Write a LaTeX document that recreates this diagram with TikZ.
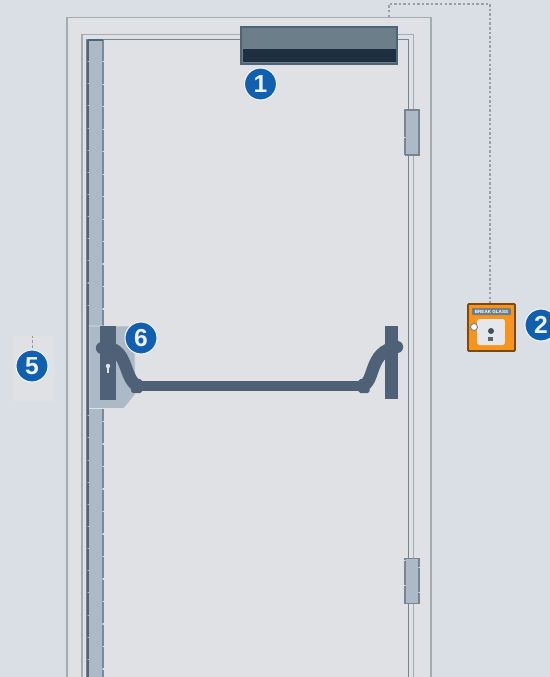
\documentclass[tikz,border=0pt]{standalone}
\usepackage{amsmath}
\usepackage{fontspec}
\setsansfont{Liberation Sans}
\usetikzlibrary{positioning,calc}
\definecolor{wallbg}{HTML}{DADEE5}
\definecolor{doorbg}{HTML}{E0E1E5}
\definecolor{frameline}{HTML}{A4ABB1}
\definecolor{doorline}{HTML}{76858F}
\definecolor{stripfill}{HTML}{ACB9C6}
\definecolor{stripline}{HTML}{4E6478}
\definecolor{barfill}{HTML}{4F6176}
\definecolor{closerfill}{HTML}{6D7E8B}
\definecolor{closerdark}{HTML}{1F2F42}
\definecolor{badgeblue}{HTML}{1160B0}
\definecolor{callorange}{HTML}{F7941D}
\definecolor{callline}{HTML}{7A4A14}

\begin{document}
\begin{tikzpicture}[
  x=0.02cm, y=-0.02cm,
  node distance=0.2cm and 0.2cm,
  badge/.style={circle, fill=badgeblue, draw=white!70!wallbg, line width=0.6pt, minimum size=0.64cm, inner sep=0pt, text=white!92!badgeblue, font=\sffamily\bfseries\fontsize{14}{14}\selectfont},
  hingebox/.style={draw=doorline, line width=0.7pt, dash pattern=on 14pt off 0.3pt, fill=stripfill, minimum width=0.28cm, minimum height=0.9cm, inner sep=0pt},
  frameedge/.style={draw=frameline, line width=1pt},
  wire/.style={draw=gray!75, line width=0.6pt, dash pattern=on 1.4pt off 1.2pt},
  barline/.style={draw=barfill, line width=6pt}
]
\useasboundingbox (0,0) rectangle (550,677);
\clip (0,0) rectangle (550,677);
\fill[wallbg] (0,0) rectangle (550,677);

% frame and door
\filldraw[frameedge, fill=doorbg] (67,690) -- (67,17.5) -- (431,17.5) -- (431,690);
\draw[frameedge] (82,690) -- (82,34.5) -- (413.5,34.5) -- (413.5,690);
\draw[doorline, line width=1pt] (87,690) -- (87,39.5) -- (408.5,39.5) -- (408.5,690);

% wire to the call point
\coordinate (wireA) at (389,17);
\coordinate (wireB) at (389,4);
\coordinate (wireC) at (490,4);

% strip on the door edge
\fill[stripfill] (88,40) rectangle (103,690);
\draw[stripline, line width=1.1pt, dash pattern=on 12pt off 0.6pt] (88,40) -- (88,690);
\draw[stripline!55!stripfill, line width=0.6pt, dash pattern=on 12pt off 0.8pt] (103,40) -- (103,690);
\draw[stripline, line width=1pt] (88,40) -- (103,40);

% closer
\node (closer) [minimum width=3.12cm, minimum height=0.74cm, inner sep=0pt, fill=closerfill, draw=stripline, line width=0.9pt] at (319,45.5) {};
\fill[closerdark] (243,48.5) rectangle (395.5,62);
\node (badgeA) [badge] at (260.5,84) {1};

% hinges
\node (hingeTop) [hingebox] at (412,132.5) {};
\node (hingeBot) [hingebox] at (412,581) {};

% lock plate
\filldraw[fill=stripfill, draw=doorbg, line width=0.5pt] (89,326) -- (135,326) -- (135,395) -- (124,408.5) -- (89,408.5) -- cycle;
\draw[stripline, line width=1.1pt] (88,326) -- (88,409);

% panic bar
\fill[barfill] (100,326) rectangle (116,399.5);
\fill[barfill] (384.5,326) rectangle (398,399);
\draw[barline] (140,386) -- (360,386);
\draw[barline, line width=7pt, line cap=round] (102,348) -- (108,348) .. controls (128,350) and (124,380) .. (138,386);
\draw[barline, line width=7pt, line cap=round] (362,386) .. controls (376,382) and (368,351) .. (397,347);
\fill[barfill, rounded corners=1pt] (131,379) rectangle (142,393);
\fill[barfill, rounded corners=1pt] (358.5,379) rectangle (369.5,393);
\node (keyhole) [circle, fill=doorbg, minimum size=0.09cm, inner sep=0pt] at (108,366) {};
\fill[doorbg] (107.2,367) rectangle (108.8,373);

% call point
\node (callbox) [minimum width=0.94cm, minimum height=0.94cm, inner sep=0pt, fill=callorange, draw=callline, line width=1pt, rounded corners=0.5pt] at (491.5,327.5) {};
\node (calllabel) [minimum width=0.78cm, minimum height=0.14cm, inner sep=0pt, fill=closerfill, text=white, font=\sffamily\bfseries\fontsize{2.6}{3}\selectfont, rounded corners=0.5pt] at (491.5,311.5) {BREAK GLASS};
\node (callpanel) [minimum width=0.56cm, minimum height=0.52cm, inner sep=0pt, fill=doorbg!80!white, rounded corners=1pt] at (491,332) {};
\node (callring) [circle, fill=white, draw=closerfill, line width=0.5pt, minimum size=0.14cm, inner sep=0pt] at (474,327) {};
\node (callmark) [circle, fill=closerdark!85, minimum size=0.12cm, inner sep=0pt] at (491,331) {};
\node (callfoot) [fill=closerdark!75, minimum width=0.1cm, minimum height=0.08cm, inner sep=0pt] at (490.5,339) {};
\draw[wire] (wireA) -- (wireB) -- (wireC) -- (callbox.north -| wireC);
\node (badgeB) [badge] at (541,325) {2};

% left side
\node (panel) [fill=doorbg, minimum width=0.82cm, minimum height=1.3cm, inner sep=0pt] at (33.5,368.5) {};
\node (badgeC) [badge] at (32,366) {5};
\draw[gray!80, line width=0.5pt, dash pattern=on 1.5pt off 1.2pt] (panel.north -| badgeC) -- (badgeC.north);
\node (badgeD) [badge] at (141,338) {6};
\end{tikzpicture}
\end{document}
